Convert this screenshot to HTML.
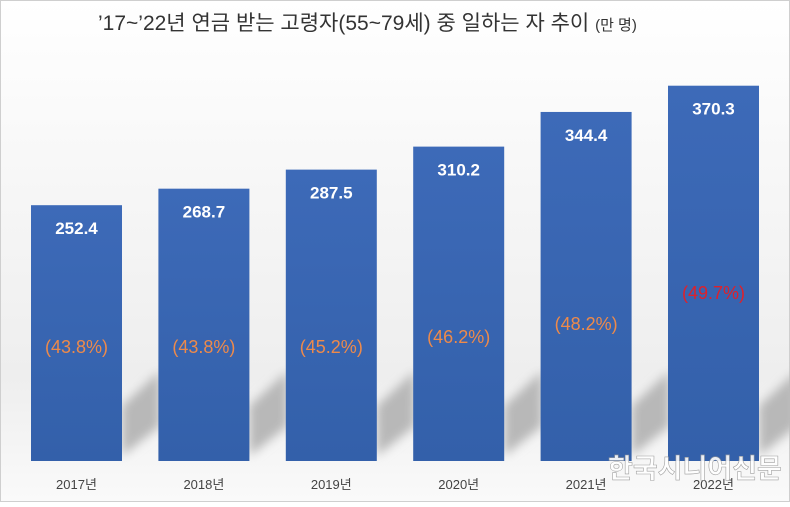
<!DOCTYPE html>
<html><head><meta charset="utf-8"><style>
body{margin:0;width:790px;height:502px;overflow:hidden;font-family:"Liberation Sans","Noto Sans CJK KR",sans-serif;}
</style></head><body>
<svg id="chart" width="790" height="502" xmlns="http://www.w3.org/2000/svg">
<defs>
<linearGradient id="bg" x1="0" y1="0" x2="0" y2="1"><stop offset="0" stop-color="#ffffff"/><stop offset="0.75" stop-color="#eeeeee"/><stop offset="1" stop-color="#fafafa"/></linearGradient>
<linearGradient id="barg" x1="0" y1="0" x2="0" y2="1"><stop offset="0" stop-color="#3d6ab8"/><stop offset="1" stop-color="#3360aa"/></linearGradient>
<filter id="bl"><feGaussianBlur stdDeviation="5"/></filter>
</defs>
<rect x="0.5" y="0.5" width="789" height="501" fill="url(#bg)" stroke="#cfcfcf"/>
<text x="98" y="30" font-size="21" fill="#333" font-family="Liberation Sans, Noto Sans CJK KR, sans-serif">’17~’22년 연금 받는 고령자(55~79세) 중 일하는 자 추이 <tspan font-size="15">(만 명)</tspan></text>
<g id="shadows"></g>
<g id="bars"></g>
<text x="608" y="478" font-size="27" font-weight="bold" fill="#fff" stroke="#999" stroke-width="0.6" opacity="0.9">한국시니어신문</text>
</svg>
<script>
const years = ["2017년","2018년","2019년","2020년","2021년","2022년"];
const values = [252.4,268.7,287.5,310.2,344.4,370.3];
const pcts = ["(43.8%)","(43.8%)","(45.2%)","(46.2%)","(48.2%)","(49.7%)"];
const pctRows = [346,346,346,336,323,292];
const ns="http://www.w3.org/2000/svg";
const baseY=461, scale=1.0135, x0=31, step=127.4, bw=91;
const xPos=i=>x0+i*step;
const yPos=v=>baseY-v*scale;
const g=document.getElementById('bars'), sg=document.getElementById('shadows');
function mk(tag,attrs,parent){const e=document.createElementNS(ns,tag);for(const k in attrs)e.setAttribute(k,attrs[k]);parent.appendChild(e);return e;}
values.forEach((v,i)=>{
  const x=xPos(i), y=yPos(v), r=x+bw;
  const sh=mk('polygon',{points:`${r},${baseY-5} ${r},${baseY-55} ${r+38},${baseY-90} ${r+38},${baseY-35}`,fill:'#b8b8b8',filter:'url(#bl)'},sg);
  
  
  const b=mk('rect',{x:x,y:y,width:bw,height:baseY-y,fill:'url(#barg)'},g);
  
  
  const t=mk('text',{x:x+bw/2,y:y+29,'text-anchor':'middle','font-size':'17','font-weight':'bold',fill:'#fff'},g);
  t.textContent=v.toFixed(1);
  
  
  const p=mk('text',{x:x+bw/2,y:pctRows[i]+7,'text-anchor':'middle','font-size':'18',fill:i===5?'#e0202a':'#ee8a4a'},g);
  p.textContent=pcts[i];
  
  
  const c=mk('text',{x:x+bw/2,y:489,'text-anchor':'middle','font-size':'13',fill:'#444'},g);
  c.textContent=years[i];
  
  
});
</script>
</body></html>
